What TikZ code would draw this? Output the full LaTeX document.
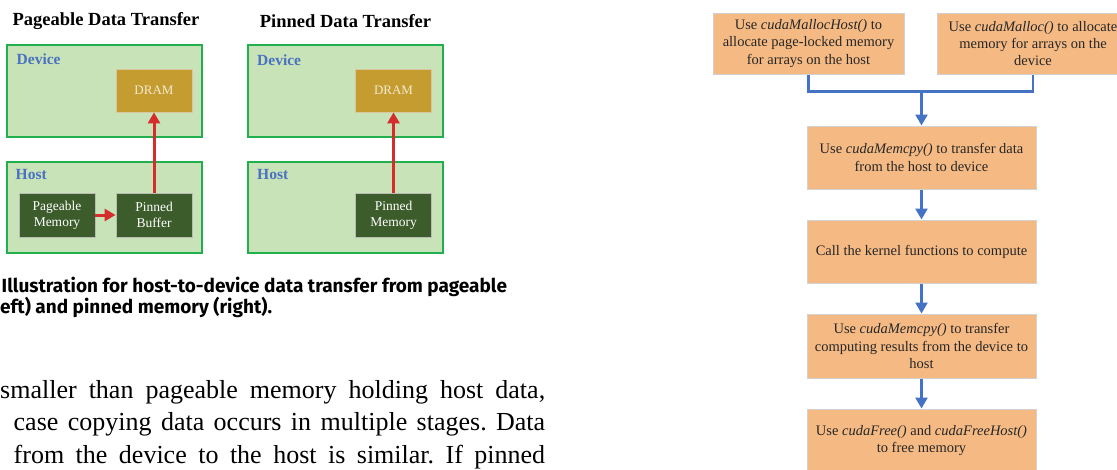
\documentclass[tikz,border=0pt]{standalone}
\usepackage{fontspec}
\setmainfont{Liberation Serif}
\newfontfamily\capfont{Fira Sans}
\usetikzlibrary{arrows.meta,positioning}

\definecolor{panelgreen}{HTML}{C9E3B9}
\definecolor{edgegreen}{HTML}{22B04E}
\definecolor{labelblue}{HTML}{4A72C0}
\definecolor{dramgold}{HTML}{C49C2F}
\definecolor{dramedge}{HTML}{D8C7A0}
\definecolor{dramtext}{HTML}{F3EAD2}
\definecolor{memgreen}{HTML}{3C5D2B}
\definecolor{memedge}{HTML}{B8BDB4}
\definecolor{arrowred}{HTML}{D42D2B}
\definecolor{stepfill}{HTML}{F5BA84}
\definecolor{stepedge}{HTML}{D2D2D2}
\definecolor{flowblue}{HTML}{4472C4}
\definecolor{textgray}{HTML}{262626}

\tikzset{
    panel/.style = {draw = edgegreen, fill = panelgreen, line width = 1.3pt,
        minimum width = 195pt, minimum height = 92pt, inner sep = 0},
    panel label/.style = {anchor = base west, inner sep = 0, text = labelblue,
        font = \bfseries\fontsize{15.5}{18}\selectfont},
    title/.style = {font = \bfseries\fontsize{18.5}{22}\selectfont, inner sep = 0},
    dram/.style = {fill = dramgold, draw = dramedge, line width = 0.8pt, text = dramtext,
        minimum width = 76pt, minimum height = 43pt, inner sep = 0,
        font = \fontsize{13}{15}\selectfont},
    membox/.style = {fill = memgreen, draw = memedge, line width = 0.8pt, text = white,
        minimum width = 76pt, minimum height = 44pt, inner sep = 0, align = center,
        font = \fontsize{13.5}{15.7}\selectfont},
    xfer/.style = {draw = arrowred, line width = 3pt, -{Triangle[width = 12pt, length = 11pt]}},
    stepbox/.style = {fill = stepfill, draw = stepedge, line width = 1pt, text = textgray,
        minimum width = 229pt, minimum height = 63pt, inner sep = 0, align = center,
        font = \fontsize{14.5}{17.4}\selectfont},
    flow/.style = {draw = flowblue, line width = 2.5pt},
    captionline/.style = {anchor = base west, inner sep = 0,
        font = \capfont\bfseries\fontsize{19}{22}\selectfont},
    bodyline/.style = {anchor = base west, inner sep = 0,
        font = \frenchspacing\fontsize{26}{32}\selectfont}
}

\begin{document}
\begin{tikzpicture}[x = 1pt, y = -1pt]
    \useasboundingbox (0, 0) rectangle (1117, 469);
    \clip (0, 0) rectangle (1117, 469);
    \fill [white] (0, 0) rectangle (1117, 469);

    % pageable transfer
    \node [title] (titleL) at (106, 21) {Pageable Data Transfer};
    \node [panel] (devL) at (104.5, 91) {};
    \node [panel, minimum height = 91pt] (hostL) at (104.5, 207.5) {};
    \node [panel label] (devLtxt) at (16.5, 64) {Device};
    \node [panel label] (hostLtxt) at (15.5, 179) {Host};
    \node [dram] (dramL) at (154, 90.5) {DRAM};
    \node [membox] (pageable) at (57, 215) {Pageable\\Memory};
    \node [membox] (buffer) at (154, 215) {Pinned\\Buffer};
    \draw [xfer] (pageable) -- (buffer);
    \draw [xfer] (buffer) -- (dramL);

    % pinned transfer
    \node [title] (titleR) at (345.5, 21) {Pinned Data Transfer};
    \node [panel] (devR) at (345.5, 91) {};
    \node [panel, minimum height = 91pt] (hostR) at (345.5, 207.5) {};
    \node [panel label] (devRtxt) at (257, 65) {Device};
    \node [panel label] (hostRtxt) at (257, 179) {Host};
    \node [dram] (dramR) at (393.5, 90.5) {DRAM};
    \node [membox] (pinned) at (393.5, 215) {Pinned\\Memory};
    \draw [xfer] (pinned) -- (dramR);

    % caption and running text
    \node [captionline] (cap1) at (1.5, 292)
        {Illustration for host-to-device data transfer from pageable};
    \node [captionline] (cap2) at (0, 313.5) {eft) and pinned memory (right).};
    \node [bodyline] (body1) at (0, 398)
        {\makebox[545pt][s]{smaller than pageable memory holding host data,}};
    \node [bodyline] (body2) at (13.5, 430.5)
        {\makebox[531.5pt][s]{case copying data occurs in multiple stages. Data}};
    \node [bodyline] (body3) at (13.5, 463)
        {\makebox[531.5pt][s]{from the device to the host is similar. If pinned}};

    % CUDA workflow
    \node [stepbox, minimum width = 191pt, minimum height = 61pt] (hostalloc) at (808.5, 43.5)
        {Use \textit{cudaMallocHost()} to\\allocate page-locked memory\\for arrays on the host};
    \node [stepbox, minimum width = 192pt, minimum height = 61pt] (devalloc) at (1033, 43.5)
        {Use \textit{cudaMalloc()} to allocate\\memory for arrays on the\\device};
    \node [stepbox] (copyin) at (921.5, 157.5)
        {Use \textit{cudaMemcpy()} to transfer data\\from the host to device};
    \node [stepbox] (kernel) at (921.5, 251.5) {Call the kernel functions to compute};
    \node [stepbox, minimum height = 64pt] (copyout) at (921.5, 346)
        {Use \textit{cudaMemcpy()} to transfer\\computing results from the device to\\host};
    \node [stepbox] (release) at (921.5, 440.5)
        {Use \textit{cudaFree()} and \textit{cudaFreeHost()}\\to free memory};
    \coordinate (join) at (921.5, 91.5);
    \draw [flow] (hostalloc) |- (join) -| (devalloc);
    \draw [flow, -{Triangle[width = 12pt, length = 11pt]}] (join) -- (copyin);
    \draw [flow, -{Triangle[width = 12pt, length = 11pt]}] (copyin) -- (kernel);
    \draw [flow, -{Triangle[width = 12pt, length = 11pt]}] (kernel) -- (copyout);
    \draw [flow, -{Triangle[width = 12pt, length = 11pt]}] (copyout) -- (release);
\end{tikzpicture}
\end{document}
